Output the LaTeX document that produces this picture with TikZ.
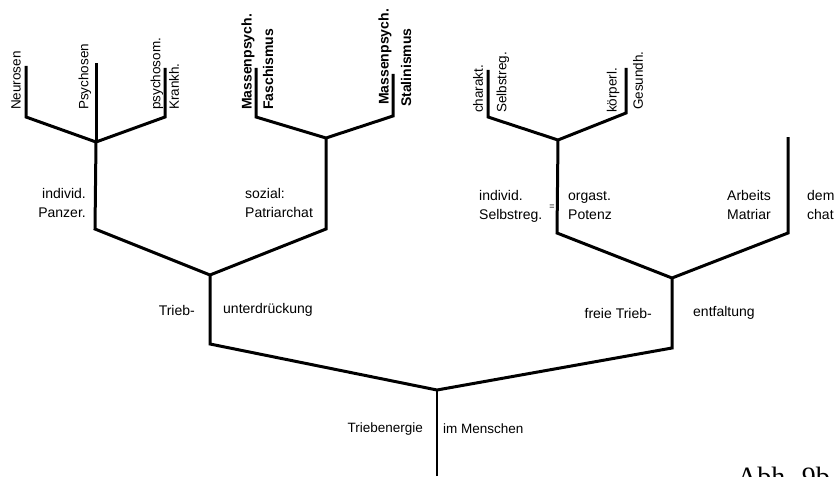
\documentclass[tikz,border=0pt]{standalone}
\usepackage{fontspec}
\setmainfont{Liberation Sans}
\newfontfamily\capfont{Liberation Serif}
\begin{document}
\begin{tikzpicture}[x=1pt,y=-1pt,
  branch/.style={line width=3pt, line join=miter, line cap=butt},
  trunk/.style={line width=1.4pt},
  leaf/.style={rotate=90, anchor=west, inner sep=0pt, font=\fontsize{13.5}{16}\selectfont},
  leafb/.style={leaf, font=\fontsize{14}{16}\selectfont\bfseries},
  labl/.style={inner sep=0pt, anchor=west, align=left, font=\fontsize{14}{19}\selectfont},
  labr/.style={inner sep=0pt, anchor=east, align=right, font=\fontsize{14}{19}\selectfont},
]
\useasboundingbox (0,0) rectangle (837,476);
\clip (0,0) rectangle (837,476);

% coordinates of the tree
\coordinate (r0) at (437,476);
\coordinate (r) at (437,390);
\coordinate (Lb) at (210,344);
\coordinate (L) at (210,275);
\coordinate (Rb) at (672,348);
\coordinate (R) at (672,278);
% left main
\coordinate (LLb) at (95,229);
\coordinate (LL) at (96,142);
\coordinate (LRb) at (326,229);
\coordinate (LR) at (326,138);
% right main
\coordinate (RLb) at (557,233);
\coordinate (RL) at (558,140);
\coordinate (RRb) at (788,233);
\coordinate (RRt) at (788,137);
% leaves group 1
\coordinate (a1b) at (26,117);  \coordinate (a1t) at (26,66);
\coordinate (a2t) at (96,63);
\coordinate (a3b) at (165,117); \coordinate (a3t) at (165,68);
% group 2
\coordinate (b1b) at (256,117); \coordinate (b1t) at (256,68);
\coordinate (b2b) at (393,116); \coordinate (b2t) at (393,74);
% group 3
\coordinate (c1b) at (488,117); \coordinate (c1t) at (488,70);
\coordinate (c2b) at (626,113); \coordinate (c2t) at (626,68);

% connectors
\draw[trunk] (r0) -- (r);
\draw[branch] (L) -- (Lb) -- (r) -- (Rb) -- (R);
\draw[branch] (LL) -- (LLb) -- (L) -- (LRb) -- (LR);
\draw[branch] (RL) -- (RLb) -- (R) -- (RRb) -- (RRt);
\draw[branch] (a1t) -- (a1b) -- (LL) -- (a3b) -- (a3t);
\draw[branch] (LL) -- (a2t);
\draw[branch] (b1t) -- (b1b) -- (LR) -- (b2b) -- (b2t);
\draw[branch] (c1t) -- (c1b) -- (RL) -- (c2b) -- (c2t);

% top labels
\node[leaf] (t1) at (16,110) {Neurosen};
\node[leaf] (t2) at (85,110) {Psychosen};
\node[leaf] (t3) at (157,110) {psychosom.};
\node[leaf] (t4) at (174,110) {Krankh.};
\node[leafb] (t5) at (248,110) {Massenpsych.};
\node[leafb] (t6) at (268,110) {Faschismus};
\node[leafb] (t7) at (385,105) {Massenpsych.};
\node[leafb] (t8) at (406,107) {Stalinismus};
\node[leaf] (t9) at (478,113) {charakt.};
\node[leaf] (t10) at (503,113) {Selbstreg.};
\node[leaf] (t11) at (613,113) {körperl.};
\node[leaf] (t12) at (638,110) {Gesundh.};

% middle labels
\node[labr] (m1) at (86,203) {individ.\\Panzer.};
\node[labl] (m2) at (245,203) {sozial:\\Patriarchat};
\node[labl] (m3) at (479,206) {individ.\\Selbstreg.};
\node[inner sep=0pt, font=\fontsize{9}{9}\selectfont] (eq) at (552,207) {=};
\node[labl] (m4) at (568,206) {orgast.\\Potenz};
\node[labl] (m5) at (727,205) {Arbeits\\Matriar};
\node[labl] (m6) at (807,205) {dem\\chat};

% lower labels
\node[labr] (n1) at (195,310) {Trieb-};
\node[labl] (n2) at (223,310) {unterdrückung};
\node[labr] (n3) at (652,313) {freie Trieb-};
\node[labl] (n4) at (693,313) {entfaltung};
\node[labr, font=\fontsize{13.5}{16}\selectfont] (n5) at (423,429) {Triebenergie};
\node[labl, font=\fontsize{13.5}{16}\selectfont] (n6) at (443,429) {im Menschen};

% caption
\node[inner sep=0pt, anchor=base west, font=\capfont\fontsize{28}{30}\selectfont] (cap) at (737,486) {Abh. 9b};
\end{tikzpicture}
\end{document}
